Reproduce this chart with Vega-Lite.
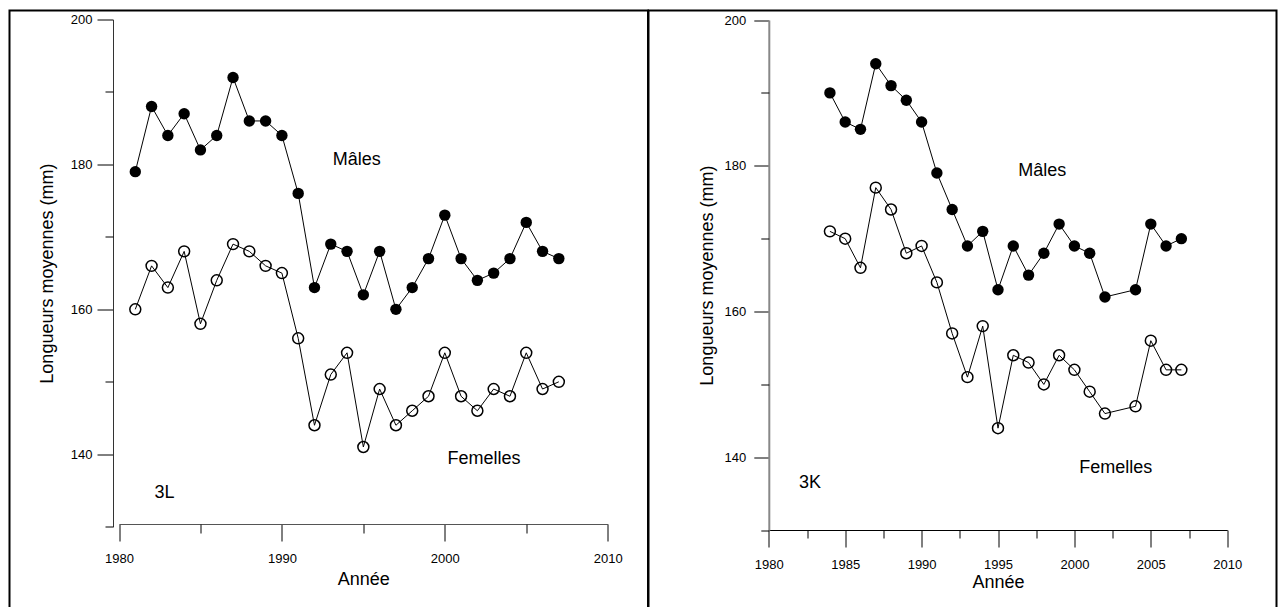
{
  "$schema": "https://vega.github.io/schema/vega-lite/v6.json",
  "background": "white",
  "padding": {"left": 8.5, "top": 9.5, "right": 0, "bottom": 0},
  "config": {
    "font": "Liberation Sans",
    "view": {"stroke": "black", "strokeWidth": 2},
    "axis": {
      "grid": false,
      "labelFont": "Liberation Sans",
      "labelFontSize": 13,
      "labelColor": "black",
      "labelFlush": false,
      "labelOverlap": false,
      "titleFont": "Liberation Sans",
      "titleFontSize": 18,
      "titleFontWeight": "normal",
      "titleColor": "black",
      "tickColor": "black",
      "tickWidth": 1,
      "domainColor": "black",
      "domainWidth": 1
    },
    "text": {"font": "Liberation Sans", "fontSize": 18, "color": "black"}
  },
  "datasets": {
    "longueurs": [
      {"division": "3L", "sexe": "Mâles", "annee": 1981, "longueur": 179},
      {"division": "3L", "sexe": "Mâles", "annee": 1982, "longueur": 188},
      {"division": "3L", "sexe": "Mâles", "annee": 1983, "longueur": 184},
      {"division": "3L", "sexe": "Mâles", "annee": 1984, "longueur": 187},
      {"division": "3L", "sexe": "Mâles", "annee": 1985, "longueur": 182},
      {"division": "3L", "sexe": "Mâles", "annee": 1986, "longueur": 184},
      {"division": "3L", "sexe": "Mâles", "annee": 1987, "longueur": 192},
      {"division": "3L", "sexe": "Mâles", "annee": 1988, "longueur": 186},
      {"division": "3L", "sexe": "Mâles", "annee": 1989, "longueur": 186},
      {"division": "3L", "sexe": "Mâles", "annee": 1990, "longueur": 184},
      {"division": "3L", "sexe": "Mâles", "annee": 1991, "longueur": 176},
      {"division": "3L", "sexe": "Mâles", "annee": 1992, "longueur": 163},
      {"division": "3L", "sexe": "Mâles", "annee": 1993, "longueur": 169},
      {"division": "3L", "sexe": "Mâles", "annee": 1994, "longueur": 168},
      {"division": "3L", "sexe": "Mâles", "annee": 1995, "longueur": 162},
      {"division": "3L", "sexe": "Mâles", "annee": 1996, "longueur": 168},
      {"division": "3L", "sexe": "Mâles", "annee": 1997, "longueur": 160},
      {"division": "3L", "sexe": "Mâles", "annee": 1998, "longueur": 163},
      {"division": "3L", "sexe": "Mâles", "annee": 1999, "longueur": 167},
      {"division": "3L", "sexe": "Mâles", "annee": 2000, "longueur": 173},
      {"division": "3L", "sexe": "Mâles", "annee": 2001, "longueur": 167},
      {"division": "3L", "sexe": "Mâles", "annee": 2002, "longueur": 164},
      {"division": "3L", "sexe": "Mâles", "annee": 2003, "longueur": 165},
      {"division": "3L", "sexe": "Mâles", "annee": 2004, "longueur": 167},
      {"division": "3L", "sexe": "Mâles", "annee": 2005, "longueur": 172},
      {"division": "3L", "sexe": "Mâles", "annee": 2006, "longueur": 168},
      {"division": "3L", "sexe": "Mâles", "annee": 2007, "longueur": 167},
      {"division": "3L", "sexe": "Femelles", "annee": 1981, "longueur": 160},
      {"division": "3L", "sexe": "Femelles", "annee": 1982, "longueur": 166},
      {"division": "3L", "sexe": "Femelles", "annee": 1983, "longueur": 163},
      {"division": "3L", "sexe": "Femelles", "annee": 1984, "longueur": 168},
      {"division": "3L", "sexe": "Femelles", "annee": 1985, "longueur": 158},
      {"division": "3L", "sexe": "Femelles", "annee": 1986, "longueur": 164},
      {"division": "3L", "sexe": "Femelles", "annee": 1987, "longueur": 169},
      {"division": "3L", "sexe": "Femelles", "annee": 1988, "longueur": 168},
      {"division": "3L", "sexe": "Femelles", "annee": 1989, "longueur": 166},
      {"division": "3L", "sexe": "Femelles", "annee": 1990, "longueur": 165},
      {"division": "3L", "sexe": "Femelles", "annee": 1991, "longueur": 156},
      {"division": "3L", "sexe": "Femelles", "annee": 1992, "longueur": 144},
      {"division": "3L", "sexe": "Femelles", "annee": 1993, "longueur": 151},
      {"division": "3L", "sexe": "Femelles", "annee": 1994, "longueur": 154},
      {"division": "3L", "sexe": "Femelles", "annee": 1995, "longueur": 141},
      {"division": "3L", "sexe": "Femelles", "annee": 1996, "longueur": 149},
      {"division": "3L", "sexe": "Femelles", "annee": 1997, "longueur": 144},
      {"division": "3L", "sexe": "Femelles", "annee": 1998, "longueur": 146},
      {"division": "3L", "sexe": "Femelles", "annee": 1999, "longueur": 148},
      {"division": "3L", "sexe": "Femelles", "annee": 2000, "longueur": 154},
      {"division": "3L", "sexe": "Femelles", "annee": 2001, "longueur": 148},
      {"division": "3L", "sexe": "Femelles", "annee": 2002, "longueur": 146},
      {"division": "3L", "sexe": "Femelles", "annee": 2003, "longueur": 149},
      {"division": "3L", "sexe": "Femelles", "annee": 2004, "longueur": 148},
      {"division": "3L", "sexe": "Femelles", "annee": 2005, "longueur": 154},
      {"division": "3L", "sexe": "Femelles", "annee": 2006, "longueur": 149},
      {"division": "3L", "sexe": "Femelles", "annee": 2007, "longueur": 150},
      {"division": "3K", "sexe": "Mâles", "annee": 1984, "longueur": 190},
      {"division": "3K", "sexe": "Mâles", "annee": 1985, "longueur": 186},
      {"division": "3K", "sexe": "Mâles", "annee": 1986, "longueur": 185},
      {"division": "3K", "sexe": "Mâles", "annee": 1987, "longueur": 194},
      {"division": "3K", "sexe": "Mâles", "annee": 1988, "longueur": 191},
      {"division": "3K", "sexe": "Mâles", "annee": 1989, "longueur": 189},
      {"division": "3K", "sexe": "Mâles", "annee": 1990, "longueur": 186},
      {"division": "3K", "sexe": "Mâles", "annee": 1991, "longueur": 179},
      {"division": "3K", "sexe": "Mâles", "annee": 1992, "longueur": 174},
      {"division": "3K", "sexe": "Mâles", "annee": 1993, "longueur": 169},
      {"division": "3K", "sexe": "Mâles", "annee": 1994, "longueur": 171},
      {"division": "3K", "sexe": "Mâles", "annee": 1995, "longueur": 163},
      {"division": "3K", "sexe": "Mâles", "annee": 1996, "longueur": 169},
      {"division": "3K", "sexe": "Mâles", "annee": 1997, "longueur": 165},
      {"division": "3K", "sexe": "Mâles", "annee": 1998, "longueur": 168},
      {"division": "3K", "sexe": "Mâles", "annee": 1999, "longueur": 172},
      {"division": "3K", "sexe": "Mâles", "annee": 2000, "longueur": 169},
      {"division": "3K", "sexe": "Mâles", "annee": 2001, "longueur": 168},
      {"division": "3K", "sexe": "Mâles", "annee": 2002, "longueur": 162},
      {"division": "3K", "sexe": "Mâles", "annee": 2004, "longueur": 163},
      {"division": "3K", "sexe": "Mâles", "annee": 2005, "longueur": 172},
      {"division": "3K", "sexe": "Mâles", "annee": 2006, "longueur": 169},
      {"division": "3K", "sexe": "Mâles", "annee": 2007, "longueur": 170},
      {"division": "3K", "sexe": "Femelles", "annee": 1984, "longueur": 171},
      {"division": "3K", "sexe": "Femelles", "annee": 1985, "longueur": 170},
      {"division": "3K", "sexe": "Femelles", "annee": 1986, "longueur": 166},
      {"division": "3K", "sexe": "Femelles", "annee": 1987, "longueur": 177},
      {"division": "3K", "sexe": "Femelles", "annee": 1988, "longueur": 174},
      {"division": "3K", "sexe": "Femelles", "annee": 1989, "longueur": 168},
      {"division": "3K", "sexe": "Femelles", "annee": 1990, "longueur": 169},
      {"division": "3K", "sexe": "Femelles", "annee": 1991, "longueur": 164},
      {"division": "3K", "sexe": "Femelles", "annee": 1992, "longueur": 157},
      {"division": "3K", "sexe": "Femelles", "annee": 1993, "longueur": 151},
      {"division": "3K", "sexe": "Femelles", "annee": 1994, "longueur": 158},
      {"division": "3K", "sexe": "Femelles", "annee": 1995, "longueur": 144},
      {"division": "3K", "sexe": "Femelles", "annee": 1996, "longueur": 154},
      {"division": "3K", "sexe": "Femelles", "annee": 1997, "longueur": 153},
      {"division": "3K", "sexe": "Femelles", "annee": 1998, "longueur": 150},
      {"division": "3K", "sexe": "Femelles", "annee": 1999, "longueur": 154},
      {"division": "3K", "sexe": "Femelles", "annee": 2000, "longueur": 152},
      {"division": "3K", "sexe": "Femelles", "annee": 2001, "longueur": 149},
      {"division": "3K", "sexe": "Femelles", "annee": 2002, "longueur": 146},
      {"division": "3K", "sexe": "Femelles", "annee": 2004, "longueur": 147},
      {"division": "3K", "sexe": "Femelles", "annee": 2005, "longueur": 156},
      {"division": "3K", "sexe": "Femelles", "annee": 2006, "longueur": 152},
      {"division": "3K", "sexe": "Femelles", "annee": 2007, "longueur": 152}
    ],
    "etiquettes": [
      {"division": "3L", "texte": "Mâles", "annee": 1994.6, "longueur": 180.6},
      {"division": "3L", "texte": "Femelles", "annee": 2002.4, "longueur": 139.4},
      {"division": "3L", "texte": "3L", "annee": 1982.8, "longueur": 134.6},
      {"division": "3K", "texte": "Mâles", "annee": 1997.9, "longueur": 179.3},
      {"division": "3K", "texte": "Femelles", "annee": 2002.7, "longueur": 138.6},
      {"division": "3K", "texte": "3K", "annee": 1982.7, "longueur": 136.5}
    ]
  },
  "spacing": 0,
  "bounds": "flush",
  "hconcat": [
    {
      "width": 638.5,
      "height": 600,
      "resolve": {"axis": {"x": "independent", "y": "independent"}},
      "layer": [
        {
          "data": {"name": "longueurs"},
          "transform": [{"filter": "datum.division === '3L'"}],
          "mark": {"type": "line", "color": "black", "strokeWidth": 1},
          "encoding": {
            "x": {"field": "annee", "type": "quantitative",
                  "scale": {"domain": [1980, 2010], "range": [109.5, 598.2], "nice": false, "zero": false},
                  "axis": {"orient": "bottom", "values": [1980, 1990, 2000, 2010], "format": "d", "tickSize": 17, "labelPadding": 11,
                           "offset": -86.5, "title": "Année", "titlePadding": 5, "domainColor": "#555555"}},
            "y": {"field": "longueur", "type": "quantitative",
                  "scale": {"domain": [130, 200], "range": [516.2, 9], "nice": false, "zero": false},
                  "axis": {"orient": "left", "values": [140, 160, 180, 200], "tickSize": 16, "labelPadding": 5,
                           "offset": -103.5, "title": "Longueurs moyennes (mm)", "titlePadding": 14, "domainColor": "#333333"}},
            "detail": {"field": "sexe"}
          }
        },
        {
          "data": {"name": "longueurs"},
          "transform": [{"filter": "datum.division === '3L' && datum.sexe === 'Mâles'"}],
          "mark": {"type": "point", "shape": "circle", "filled": true, "color": "black", "opacity": 1, "size": 130},
          "encoding": {
            "x": {"field": "annee", "type": "quantitative",
                  "axis": {"orient": "bottom", "values": [1985, 1995, 2005], "tickSize": 9, "labels": false, "domain": false,
                           "offset": -86.5, "title": null}},
            "y": {"field": "longueur", "type": "quantitative",
                  "axis": {"orient": "left", "values": [130, 150, 170, 190], "tickSize": 8, "labels": false, "domain": false,
                           "offset": -103.5, "title": null}}
          }
        },
        {
          "data": {"name": "longueurs"},
          "transform": [{"filter": "datum.division === '3L' && datum.sexe === 'Femelles'"}],
          "mark": {"type": "point", "shape": "circle", "filled": false, "stroke": "black", "strokeWidth": 1.5, "opacity": 1, "size": 120},
          "encoding": {
            "x": {"field": "annee", "type": "quantitative", "axis": null},
            "y": {"field": "longueur", "type": "quantitative", "axis": null}
          }
        },
        {
          "data": {"name": "etiquettes"},
          "transform": [{"filter": "datum.division === '3L'"}],
          "mark": {"type": "text", "align": "center", "baseline": "middle"},
          "encoding": {
            "x": {"field": "annee", "type": "quantitative", "axis": null},
            "y": {"field": "longueur", "type": "quantitative", "axis": null},
            "text": {"field": "texte"}
          }
        }
      ]
    },
    {
      "width": 628,
      "height": 600,
      "resolve": {"axis": {"x": "independent", "y": "independent"}},
      "layer": [
        {
          "data": {"name": "longueurs"},
          "transform": [{"filter": "datum.division === '3K'"}],
          "mark": {"type": "line", "color": "black", "strokeWidth": 1},
          "encoding": {
            "x": {"field": "annee", "type": "quantitative",
                  "scale": {"domain": [1980, 2010], "range": [120.3, 578.7], "nice": false, "zero": false},
                  "axis": {"orient": "bottom", "values": [1980, 1985, 1990, 1995, 2000, 2005, 2010], "format": "d", "tickSize": 17, "labelPadding": 11,
                           "offset": -80.5, "title": "Année", "titlePadding": 2, "domainColor": "black"}},
            "y": {"field": "longueur", "type": "quantitative",
                  "scale": {"domain": [130, 200], "range": [519.7, 9.5], "nice": false, "zero": false},
                  "axis": {"orient": "left", "values": [140, 160, 180, 200], "tickSize": 15, "labelPadding": 8,
                           "offset": -120.3, "title": "Longueurs moyennes (mm)", "titlePadding": 8,
                           "domainColor": "#888888", "domainWidth": 2}},
            "detail": {"field": "sexe"}
          }
        },
        {
          "data": {"name": "longueurs"},
          "transform": [{"filter": "datum.division === '3K' && datum.sexe === 'Mâles'"}],
          "mark": {"type": "point", "shape": "circle", "filled": true, "color": "black", "opacity": 1, "size": 130},
          "encoding": {
            "x": {"field": "annee", "type": "quantitative",
                  "axis": {"orient": "bottom", "values": [1982.5, 1987.5, 1992.5, 1997.5, 2002.5, 2007.5], "tickSize": 8, "labels": false, "domain": false,
                           "offset": -80.5, "title": null}},
            "y": {"field": "longueur", "type": "quantitative",
                  "axis": {"orient": "left", "values": [130, 150, 170, 190], "tickSize": 8, "labels": false, "domain": false,
                           "offset": -120.3, "title": null}}
          }
        },
        {
          "data": {"name": "longueurs"},
          "transform": [{"filter": "datum.division === '3K' && datum.sexe === 'Femelles'"}],
          "mark": {"type": "point", "shape": "circle", "filled": false, "stroke": "black", "strokeWidth": 1.5, "opacity": 1, "size": 120},
          "encoding": {
            "x": {"field": "annee", "type": "quantitative", "axis": null},
            "y": {"field": "longueur", "type": "quantitative", "axis": null}
          }
        },
        {
          "data": {"name": "etiquettes"},
          "transform": [{"filter": "datum.division === '3K'"}],
          "mark": {"type": "text", "align": "center", "baseline": "middle"},
          "encoding": {
            "x": {"field": "annee", "type": "quantitative", "axis": null},
            "y": {"field": "longueur", "type": "quantitative", "axis": null},
            "text": {"field": "texte"}
          }
        }
      ]
    }
  ]
}
